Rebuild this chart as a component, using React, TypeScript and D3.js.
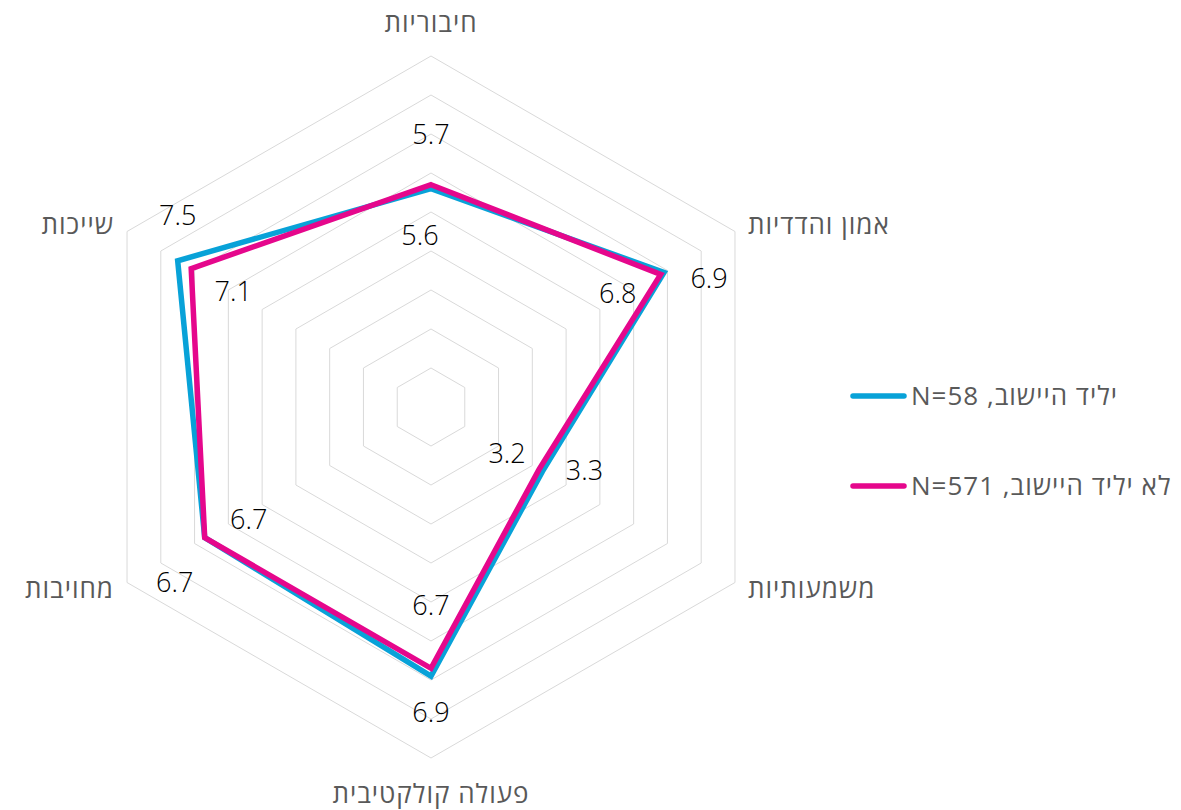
import React from 'react';
import * as d3 from 'd3';

// axes, clockwise from the top
const axes = ['חיבוריות', 'אמון והדדיות', 'משמעותיות', 'פעולה קולקטיבית', 'מחויבות', 'שייכות'];
const nativeValues = [5.6, 6.9, 3.3, 6.9, 6.7, 7.5];
const otherValues = [5.7, 6.8, 3.2, 6.7, 6.7, 7.1];
const seriesNames = ['יליד היישוב, N=58', 'לא יליד היישוב, N=571'];
const ringLevels = [1, 2, 3, 4, 5, 6, 7, 8, 9];

// label offsets from each point (px)
const nativeLabelOffsets = [[-11, 47], [45, 7], [42, 0], [0, 37], [-30, 45], [0, -45]];
const otherLabelOffsets = [[0, -50], [-43, 20], [-32, -15], [0, -62], [44, -18], [42, 23]];

const width = 1181;
const height = 810;
const cx = 431;
const cy = 407;
const outerR = 351;
const colors = ['#08A2D8', '#E5078C'];

const r = d3.scaleLinear().domain([0, 9]).range([0, outerR]);
const angle = (i: number) => (Math.PI * 2 * i) / axes.length;
const pt = (i: number, v: number): [number, number] => [
  cx + r(v) * Math.sin(angle(i)),
  cy - r(v) * Math.cos(angle(i)),
];

const closedLine = d3.line<[number, number]>().curve(d3.curveLinearClosed);

const font = "'Segoe UI', 'Open Sans', 'Noto Sans', sans-serif";

const App = () => {
  const series = [nativeValues, otherValues];
  const offsets = [nativeLabelOffsets, otherLabelOffsets];

  return (
    <svg width={width} height={height} style={{ position: 'absolute', left: 0, top: 0 }}>
      <rect width={width} height={height} fill="#fff" />
      {ringLevels.map((lv) => (
        <path key={lv} d={closedLine(axes.map((_, i) => pt(i, lv))) || ''}
          fill="none" stroke="#d9d9d9" strokeWidth={1} />
      ))}
      {axes.map((name, i) => {
        const vertical = i === 0 || i === 3;
        const [x, y] = pt(i, 9);
        let lx = x, ly = y, anchor = 'middle';
        if (vertical) {
          ly = i === 0 ? y - 24 : y + 45;
        } else {
          const right = Math.sin(angle(i)) > 0;
          lx = right ? x + 13 : x - 13;
          ly = Math.cos(angle(i)) > 0 ? y - 7 + 9 : y + 6 + 9;
          anchor = right ? 'start' : 'end';
        }
        return (
          <text key={name} x={lx} y={ly} textAnchor={anchor} fontFamily={font}
            fontSize={26} letterSpacing={1} fill="#595959">
            {name}
          </text>
        );
      })}
      {series.map((vals, s) => (
        <path key={s} d={closedLine(vals.map((v, i) => pt(i, v))) || ''}
          fill="none" stroke={colors[s]} strokeWidth={5.5} strokeLinejoin="miter" />
      ))}
      {series.map((vals, s) =>
        vals.map((v, i) => {
          const [x, y] = pt(i, v);
          const [dx, dy] = offsets[s][i];
          return (
            <text key={`${s}-${i}`} x={x + dx} y={y + dy + 9} textAnchor="middle"
              fontFamily={font} fontWeight={300} fontSize={27} fill="#000">
              {v.toFixed(1)}
            </text>
          );
        })
      )}
      {seriesNames.map((name, s) => {
        const ly = 396 + s * 90;
        return (
          <g key={name}>
            <line x1={853} x2={904} y1={ly} y2={ly} stroke={colors[s]} strokeWidth={5.5} strokeLinecap="round" />
            <text x={911} y={ly + 9} fontFamily={font} fontSize={26} letterSpacing={1} fill="#595959"
              direction="rtl" textAnchor="end">
              {name}
            </text>
          </g>
        );
      })}
    </svg>
  );
};

export default App;
